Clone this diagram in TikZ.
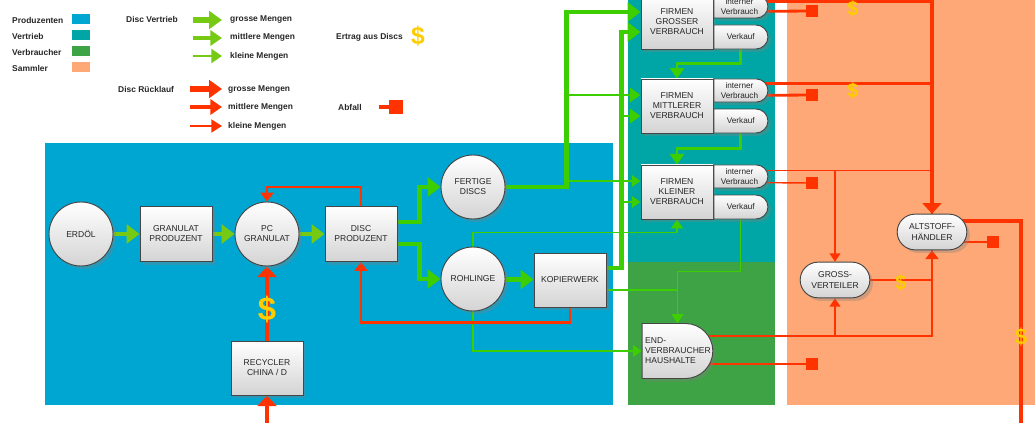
\documentclass[tikz,border=0pt]{standalone}
\usepackage{fontspec}
\setmainfont{Liberation Sans}
\usetikzlibrary{arrows.meta, positioning, calc, shapes.misc, shadows}

\definecolor{prodblue}{RGB}{0,166,210}
\definecolor{vertteal}{RGB}{0,166,166}
\definecolor{verbgreen}{RGB}{61,163,68}
\definecolor{sammsalmon}{RGB}{253,168,118}
\definecolor{limeflow}{RGB}{118,202,20}
\definecolor{greenflow}{RGB}{60,206,0}
\definecolor{redflow}{RGB}{255,51,0}
\definecolor{dollar}{RGB}{255,204,0}
\definecolor{boxline}{RGB}{70,70,70}

\pgfdeclarelayer{panels}
\pgfdeclarelayer{flows}
\pgfsetlayers{panels,flows,main}

\begin{document}
\begin{tikzpicture}[x=0.03cm, y=-0.03cm,
    every node/.style={font=\fontsize{7.3}{8.6}\selectfont, text=black!85},
    unit/.style={draw=boxline, line width=0.8pt, top color=white, bottom color=black!17,
      drop shadow={shadow xshift=2.6pt, shadow yshift=-2.6pt, opacity=0.35},
      align=center, inner sep=1pt},
    stock/.style={unit, circle, minimum size=1.92cm},
    plant/.style={unit, rectangle, minimum width=2.16cm, minimum height=1.65cm},
    firm/.style={plant, minimum height=1.62cm},
    usebox/.style={unit, rounded rectangle, rounded rectangle left arc=none,
      minimum width=1.62cm, minimum height=0.69cm, inner xsep=0pt,
      font=\fontsize{7}{8}\selectfont},
    sellbox/.style={usebox, minimum height=0.72cm},
    dealer/.style={unit, rounded rectangle, minimum width=2.16cm, minimum height=1.07cm},
    waste/.style={rectangle, fill=redflow, minimum size=0.34cm, inner sep=0pt},
    money/.style={text=dollar, font=\fontsize{17}{17}\selectfont\bfseries, inner sep=0pt},
    legtext/.style={anchor=west, font=\fontsize{7.2}{8.6}\selectfont\bfseries, inner sep=0pt},
    legbox/.style={minimum width=0.54cm, minimum height=0.3cm, inner sep=0pt},
    bigflow/.style={-{Triangle[length=11pt, width=16pt]}, line width=4.2pt, greenflow},
    midflow/.style={-{Triangle[length=9pt, width=12pt]}, line width=2.4pt, greenflow},
    thinflow/.style={-{Triangle[length=7.5pt, width=10pt]}, line width=1.2pt, greenflow},
    bigred/.style={-{Triangle[length=9pt, width=16pt]}, line width=4pt, redflow},
    midred/.style={-{Triangle[length=7.5pt, width=11pt]}, line width=2.4pt, redflow},
    thinred/.style={-{Triangle[length=7pt, width=9pt]}, line width=1.2pt, redflow}
  ]
  \useasboundingbox (0,0) rectangle (1035,423);

  % Bereiche
  \begin{pgfonlayer}{panels}
    \fill[prodblue] (45,143) rectangle (613,405);
    \fill[vertteal] (628,0) rectangle (775,262);
    \fill[verbgreen] (628,262) rectangle (775,405);
    \fill[sammsalmon] (787,0) rectangle (1035,405);
  \end{pgfonlayer}

  % Legende
  \node[legtext] (lgprod) at (12,20) {Produzenten};
  \node[legbox, fill=prodblue] (lgprodbox) at (81,19) {};
  \node[legtext] (lgvert) at (12,36) {Vertrieb};
  \node[legbox, fill=vertteal] (lgvertbox) at (81,35) {};
  \node[legtext] (lgverb) at (12,52) {Verbraucher};
  \node[legbox, fill=verbgreen] (lgverbbox) at (81,51) {};
  \node[legtext] (lgsamm) at (12,68) {Sammler};
  \node[legbox, fill=sammsalmon] (lgsammbox) at (81,67) {};

  \node[legtext] (lgsale) at (126,19) {Disc Vertrieb};
  \node[legtext] (lgsale1) at (230,19) {grosse Mengen};
  \node[legtext] (lgsale2) at (230,37) {mittlere Mengen};
  \node[legtext] (lgsale3) at (230,56) {kleine Mengen};
  \draw[bigflow, limeflow, line width=5.5pt, -{Triangle[length=11pt, width=15pt]}]
    ($(lgsale1.west)+(-37,1)$) -- ($(lgsale1.west)+(-8,1)$);
  \draw[midflow, limeflow, line width=3.4pt, -{Triangle[length=10pt, width=13pt]}]
    ($(lgsale2.west)+(-37,1)$) -- ($(lgsale2.west)+(-8,1)$);
  \draw[thinflow, limeflow, line width=1.6pt, -{Triangle[length=9pt, width=12pt]}]
    ($(lgsale3.west)+(-37,0)$) -- ($(lgsale3.west)+(-8,0)$);

  \node[legtext] (lgreturn) at (118,89) {Disc Rücklauf};
  \node[legtext] (lgreturn1) at (228,89) {grosse Mengen};
  \node[legtext] (lgreturn2) at (228,107) {mittlere Mengen};
  \node[legtext] (lgreturn3) at (228,126) {kleine Mengen};
  \draw[bigred, line width=5.5pt, -{Triangle[length=11pt, width=15pt]}]
    ($(lgreturn1.west)+(-38,0)$) -- ($(lgreturn1.west)+(-6,0)$);
  \draw[midred, line width=3.4pt, -{Triangle[length=10pt, width=13pt]}]
    ($(lgreturn2.west)+(-38,0)$) -- ($(lgreturn2.west)+(-6,0)$);
  \draw[thinred, line width=1.6pt, -{Triangle[length=9pt, width=11pt]}]
    ($(lgreturn3.west)+(-38,0)$) -- ($(lgreturn3.west)+(-6,0)$);

  \node[legtext] (lgcash) at (336,37) {Ertrag aus Discs};
  \node[money, font=\fontsize{21}{21}\selectfont\bfseries] (lgcashsign) at (418,36) {\$};
  \node[legtext] (lgwaste) at (338,107) {Abfall};
  \node[waste, minimum size=0.4cm] (lgwastebox) at (396,107) {};
  \draw[bigred, -] ($(lgwaste.east)+(17,0)$) -- (lgwastebox);

  % Produzenten
  \node[stock] (oil) at (81,234) {ERDÖL};
  \node[plant] (granprod) at (176,234) {GRANULAT\\PRODUZENT};
  \node[stock] (pcgran) at (267,234) {PC\\GRANULAT};
  \node[plant] (discprod) at (361,234) {DISC\\PRODUZENT};
  \node[stock] (finished) at (473,187) {FERTIGE\\DISCS};
  \node[stock] (blanks) at (473,279) {ROHLINGE};
  \node[plant, minimum height=1.62cm] (copier) at (570,280) {KOPIERWERK};
  \node[plant, minimum height=1.62cm] (recycler) at (267,368) {RECYCLER\\CHINA / D};
  \coordinate (recyclerin) at (267,430);

  % Vertrieb
  \node[firm] (firmbig) at (677,22) {FIRMEN\\GROSSER\\VERBRAUCH};
  \node[usebox, anchor=north west] (usebig) at (firmbig.north east) {interner\\Verbrauch};
  \node[sellbox, anchor=south west] (sellbig) at (firmbig.south east) {Verkauf};
  \node[firm] (firmmid) at (677,106) {FIRMEN\\MITTLERER\\VERBRAUCH};
  \node[usebox, anchor=north west] (usemid) at (firmmid.north east) {interner\\Verbrauch};
  \node[sellbox, anchor=south west] (sellmid) at (firmmid.south east) {Verkauf};
  \node[firm] (firmsmall) at (677,192) {FIRMEN\\KLEINER\\VERBRAUCH};
  \node[usebox, anchor=north west] (usesmall) at (firmsmall.north east) {interner\\Verbrauch};
  \node[sellbox, anchor=south west] (sellsmall) at (firmsmall.south east) {Verkauf};

  % Verbraucher
  \node[unit, rounded rectangle, rounded rectangle left arc=none,
    minimum width=2.19cm, minimum height=1.65cm] (household) at (677.5,351) {};
  \node[anchor=west, align=left, inner sep=0pt] (householdtext) at (645,351)
    {END-\\VERBRAUCHER\\HAUSHALTE};

  % Sammler
  \node[dealer] (scrap) at (932,232) {ALTSTOFF-\\HÄNDLER};
  \node[dealer] (wholesale) at (835,280) {GROSS-\\VERTEILER};
  \coordinate (scrapout) at (1021,430);

  \node[waste] (wastebig) at (812,11) {};
  \node[waste] (wastemid) at (812,95) {};
  \node[waste] (wastesmall) at (812,183) {};
  \node[waste] (wastehome) at (812,364) {};
  \node[waste] (wastescrap) at (993,242) {};

  \node[money, font=\fontsize{28}{28}\selectfont\bfseries] (cashrecycler) at (267,310) {\$};
  \node[money] (cashbig) at (853,9) {\$};
  \node[money] (cashmid) at (853,91) {\$};
  \node[money] (cashwholesale) at (901,283) {\$};
  \node[money, font=\fontsize{19}{19}\selectfont\bfseries] (cashscrap) at (1021,337) {\$};

  \begin{pgfonlayer}{flows}
    % Disc Vertrieb
    \draw[bigflow, limeflow] (oil) -- (granprod);
    \draw[bigflow, limeflow] (granprod) -- (pcgran);
    \draw[bigflow, limeflow] (pcgran) -- (discprod);
    \draw[bigflow] ($(discprod.east)+(0,-12)$) -- ++(22,0) |- (finished);
    \draw[bigflow] ($(discprod.east)+(0,10)$) -- ++(22,0) |- (blanks);
    \draw[bigflow] (blanks) -- (copier);

    \draw[bigflow] (finished) -| ($(firmbig.west)+(-74,-10)$) -- ($(firmbig.west)+(0,-10)$);
    \draw[midflow] ($(firmmid.west)+(-74,-11)$) -- ($(firmmid.west)+(0,-11)$);
    \draw[thinflow] ($(firmsmall.west)+(-74,-11)$) -- ($(firmsmall.west)+(0,-11)$);
    \draw[bigflow] ($(copier.east)+(0,-12)$) -| ($(firmbig.west)+(-19,10)$) -- ($(firmbig.west)+(0,10)$);
    \draw[midflow] ($(firmmid.west)+(-19,10)$) -- ($(firmmid.west)+(0,10)$);
    \draw[thinflow] ($(firmsmall.west)+(-19,10)$) -- ($(firmsmall.west)+(0,10)$);

    \draw[midflow] (sellbig.south) -- ++(0,14) -| (firmmid.north);
    \draw[midflow] (sellmid.south) -- ++(0,15) -| (firmsmall.north);
    \draw[thinflow] (blanks.north) -- ++(0,-14) -| (firmsmall.south);
    \draw[thinflow] ($(copier.east)+(0,10)$) -| (household.north);
    \draw[thinflow] (sellsmall.south) -- ++(0,52) -| (household.north);
    \draw[thinflow] (blanks.south) |- (household.west);

    % Disc Ruecklauf
    \draw[midred] (discprod.north) -- ++(0,-19) -| (pcgran.north);
    \draw[bigred] (recycler) -- (pcgran);
    \draw[bigred] (recyclerin) -- (recycler);
    \draw[midred] (copier.south) -- ++(0,15) -| (discprod.south);

    \draw[midred, -] ($(usemid.center)+(0,-7)$) -| (scrap.north);
    \draw[thinred, -] ($(usesmall.center)+(0,-6)$) -| (scrap.north);
    \draw[thinred] ($(usesmall.center)+(0,-6)$) -| (wholesale.north);
    \draw[bigred] ($(usebig.center)+(0,-6)$) -| (scrap.north);
    \draw[midred, -] ($(usebig.center)+(0,5)$) -- (wastebig);
    \draw[midred, -] ($(usemid.center)+(0,5)$) -- (wastemid);
    \draw[thinred, -] ($(usesmall.center)+(0,6)$) -- (wastesmall);

    \draw[thinred, -] ($(household.center)+(0,-15)$) -| (scrap.south);
    \draw[thinred] ($(household.center)+(0,-15)$) -| (wholesale.south);
    \draw[midred] (wholesale) -| (scrap.south);
    \draw[thinred, -] ($(household.center)+(0,13)$) -- (wastehome);
    \draw[bigred, -] ($(scrap.center)+(0,-11)$) -| (scrapout);
    \draw[thinred, -] ($(scrap.center)+(0,10)$) -- (wastescrap);
  \end{pgfonlayer}
\end{tikzpicture}
\end{document}
